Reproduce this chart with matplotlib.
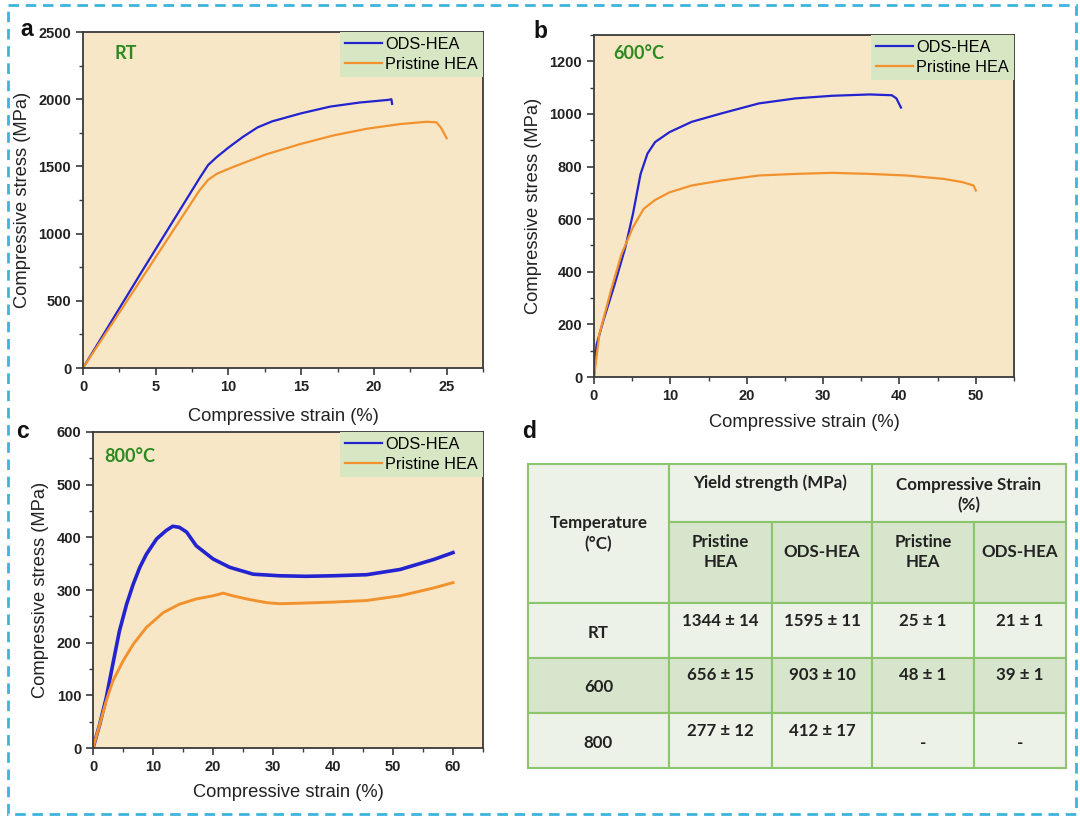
import numpy as np
import matplotlib
matplotlib.use("Agg")
import matplotlib.pyplot as plt
from matplotlib.patches import Rectangle
from matplotlib.ticker import MultipleLocator

plt.rcParams['font.family'] = ['Liberation Sans', 'DejaVu Sans']

W, H = 1080, 818

# ---- data ----
# (a) room temperature
a_ods_x = [0, 4, 6, 8, 8.6, 9.2, 10, 11, 12, 13, 15, 17, 19, 21, 21.2, 21.25]
a_ods_y = [0, 710, 1060, 1410, 1510, 1570, 1640, 1720, 1790, 1835, 1895, 1945, 1975, 1995, 2000, 1965]
a_pri_x = [0, 4, 6, 8, 8.6, 9.2, 10.3, 12.6, 14.9, 17.2, 19.5, 21.8, 23.6, 24.3, 24.6, 25]
a_pri_y = [0, 660, 990, 1320, 1400, 1445, 1495, 1590, 1665, 1730, 1780, 1815, 1832, 1828, 1790, 1710]

# (b) 600 C
b_ods_x = [0, 0.34, 1.2, 2.7, 4.1, 5.1, 6.1, 7.0, 8.0, 9.9, 12.8, 16.7, 21.6, 26.4, 31.2, 36.1, 39.0, 39.6, 40.2]
b_ods_y = [0, 123, 212, 352, 492, 620, 772, 849, 893, 931, 970, 1002, 1040, 1059, 1069, 1074, 1071, 1059, 1024]
b_pri_x = [0, 0.7, 2.2, 3.6, 5.1, 6.5, 8.0, 9.9, 12.8, 16.7, 21.6, 26.4, 31.2, 36.1, 40.9, 45.8, 48.2, 49.7, 50.0]
b_pri_y = [0, 162, 327, 467, 569, 639, 673, 702, 728, 747, 766, 772, 776, 772, 766, 753, 741, 728, 709]

# (c) 800 C
c_ods_x = [0, 1.1, 2.2, 3.3, 4.4, 5.6, 6.7, 7.8, 8.9, 10.6, 12.2, 13.3, 14.4, 15.6, 17.2, 20.0, 22.8,
           26.7, 31.1, 35.5, 40.0, 45.6, 51.2, 56.8, 60.0]
c_ods_y = [0, 44, 95, 159, 222, 273, 311, 343, 368, 397, 413, 421, 419, 410, 384, 359, 343,
           330, 327, 326, 327, 329, 339, 358, 371]
c_pri_x = [0, 1.1, 2.2, 3.3, 5.0, 6.7, 8.9, 11.7, 14.4, 17.2, 20.0, 21.7, 23.3, 25.6, 28.9, 31.1,
           34.5, 40.0, 45.6, 51.2, 56.8, 60.0]
c_pri_y = [0, 44, 89, 127, 165, 197, 229, 257, 273, 283, 289, 294, 289, 283, 276, 274,
           275, 277, 280, 289, 304, 314]

# (d) table
temps = ['RT', '600', '800']
ys_pristine = ['1344 ± 14', '656 ± 15', '277 ± 12']
ys_ods = ['1595 ± 11', '903 ± 10', '412 ± 17']
cs_pristine = ['25 ± 1', '48 ± 1', '-']
cs_ods = ['21 ± 1', '39 ± 1', '-']

BLUE = '#2323cf'
ORANGE = '#f1922f'
BG = '#f8e7c6'
LEG_BG = '#d8e7c3'
GREEN_TXT = '#2b8a1f'
LIGHT = '#edf2e8'
DARK = '#d7e5cc'
GRID = '#8dc46e'


def rect(l, t, r, b):
    return [l / W, 1 - b / H, (r - l) / W, (b - t) / H]


fig = plt.figure(figsize=(W / 100, H / 100), dpi=100)

# overlay in pixel coordinates for border, letters, table
ov = fig.add_axes([0, 0, 1, 1])
ov.set_xlim(0, W)
ov.set_ylim(H, 0)
ov.axis('off')
ov.add_patch(Rectangle((8, 5), 1068, 809, fill=False, lw=2,
                       ls=(0, (3.8, 2.4)), edgecolor='#3cb4dc'))


def style_axes(ax, xmax, xmaj, ymax, ymaj, xpad=8):
    ax.set_facecolor(BG)
    ax.set_xlim(0, xmax)
    ax.set_ylim(0, ymax)
    ax.xaxis.set_major_locator(MultipleLocator(xmaj))
    ax.xaxis.set_minor_locator(MultipleLocator(xmaj / 2))
    ax.yaxis.set_major_locator(MultipleLocator(ymaj))
    ax.yaxis.set_minor_locator(MultipleLocator(ymaj / 2))
    for s in ax.spines.values():
        s.set_color('#3a3a3a')
        s.set_linewidth(1.3)
    ax.tick_params(which='major', direction='out', length=5, width=1.2,
                   labelsize=10.5, colors='#3a3a3a', labelcolor='#222222')
    ax.tick_params(which='minor', direction='out', length=3, width=1.0, colors='#3a3a3a')
    ax.set_xlabel('Compressive strain (%)', fontsize=13.2, color='#222222', labelpad=xpad)
    ax.set_ylabel('Compressive stress (MPa)', fontsize=13.2, color='#222222', labelpad=5)
    fig.canvas.draw()
    ticks = ax.get_xticks()
    ax.set_xticks(ticks)
    ax.set_xticklabels([f'{t:g}' for t in ticks], fontweight='bold')
    ticks = ax.get_yticks()
    ax.set_yticks(ticks)
    ax.set_yticklabels([f'{t:g}' for t in ticks], fontweight='bold')
    ax.set_xlim(0, xmax)
    ax.set_ylim(0, ymax)


def add_legend(ax):
    leg = ax.legend(loc='upper right', bbox_to_anchor=(1, 1), borderaxespad=0,
                    frameon=True, fancybox=False, facecolor=LEG_BG, edgecolor='none',
                    framealpha=1, fontsize=11.7, handlelength=2.3, handletextpad=0.2,
                    labelspacing=0.3, borderpad=0.3)
    leg.get_frame().set_linewidth(0)
    for h in leg.get_lines():
        h.set_linewidth(1.6)


# (a)
ax_a = fig.add_axes(rect(83, 32, 483, 368))
ax_a.plot(a_ods_x, a_ods_y, color=BLUE, lw=1.6, label='ODS-HEA')
ax_a.plot(a_pri_x, a_pri_y, color=ORANGE, lw=1.6, label='Pristine HEA')
style_axes(ax_a, 27.5, 5, 2500, 500, xpad=10)
add_legend(ax_a)
ax_a.text(0.08, 0.937, 'RT', transform=ax_a.transAxes, color=GREEN_TXT,
          fontsize=13, fontweight='bold', family='Lato', va='center', ha='left')

# (b)
ax_b = fig.add_axes(rect(594, 35, 1014, 377))
ax_b.plot(b_ods_x, b_ods_y, color=BLUE, lw=1.6, label='ODS-HEA')
ax_b.plot(b_pri_x, b_pri_y, color=ORANGE, lw=1.6, label='Pristine HEA')
style_axes(ax_b, 55, 10, 1300, 200, xpad=8)
add_legend(ax_b)
ax_b.text(0.045, 0.946, '600°C', transform=ax_b.transAxes, color=GREEN_TXT,
          fontsize=13, fontweight='bold', family='Lato', va='center', ha='left')

# (c)
ax_c = fig.add_axes(rect(93, 432, 483, 748))
ax_c.plot(c_ods_x, c_ods_y, color=BLUE, lw=2.6, label='ODS-HEA')
ax_c.plot(c_pri_x, c_pri_y, color=ORANGE, lw=2.1, label='Pristine HEA')
style_axes(ax_c, 65, 10, 600, 100, xpad=7)
add_legend(ax_c)
ax_c.text(0.03, 0.923, '800°C', transform=ax_c.transAxes, color=GREEN_TXT,
          fontsize=13, fontweight='bold', family='Lato', va='center', ha='left')

# panel letters
for s, x, y in [('a', 20, 29), ('b', 533, 31), ('c', 16, 432), ('d', 522, 431)]:
    ov.text(x, y, s, fontsize=16.5, fontweight='bold', va='center', ha='left', color='#111111')

# (d) table
xs = [528, 669, 772, 872, 974, 1066]
ys = [464, 522, 603, 658, 713, 768]
tfont = dict(family='Lato', fontweight='bold', fontsize=12.2, color='#222222',
             ha='center', va='center', linespacing=1.35)


def cell(x0, y0, x1, y1, fc):
    ov.add_patch(Rectangle((x0, y0), x1 - x0, y1 - y0, facecolor=fc,
                           edgecolor=GRID, lw=1.5))


cell(xs[0], ys[0], xs[1], ys[2], LIGHT)
cell(xs[1], ys[0], xs[3], ys[1], LIGHT)
cell(xs[3], ys[0], xs[5], ys[1], LIGHT)
for i in range(4):
    cell(xs[i + 1], ys[1], xs[i + 2], ys[2], DARK)
row_fc = [LIGHT, DARK, LIGHT]
for r in range(3):
    for c in range(5):
        cell(xs[c], ys[r + 2], xs[c + 1], ys[r + 3], row_fc[r])

ov.text((xs[0] + xs[1]) / 2, (ys[0] + ys[2]) / 2, 'Temperature\n(°C)', **tfont)
ov.text((xs[1] + xs[3]) / 2, ys[0] + 19, 'Yield strength (MPa)', **tfont)
ov.text((xs[3] + xs[5]) / 2, ys[0] + 31, 'Compressive Strain\n(%)', **tfont)
sub = ['Pristine\nHEA', 'ODS-HEA', 'Pristine\nHEA', 'ODS-HEA']
for i, s in enumerate(sub):
    ov.text((xs[i + 1] + xs[i + 2]) / 2, ys[1] + 30, s, **tfont)

cols = [ys_pristine, ys_ods, cs_pristine, cs_ods]
for r in range(3):
    yc = (ys[r + 2] + ys[r + 3]) / 2
    ov.text((xs[0] + xs[1]) / 2, yc + 2, temps[r], **tfont)
    for c, col in enumerate(cols):
        val = col[r]
        off = 2 if val == '-' else -10
        ov.text((xs[c + 1] + xs[c + 2]) / 2, yc + off, val, **tfont)

fig.savefig('out.png', dpi=100, facecolor='white')
